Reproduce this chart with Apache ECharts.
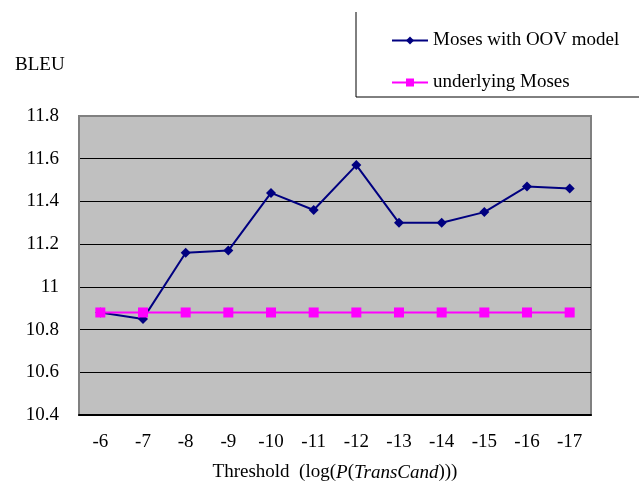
<!DOCTYPE html>
<html>
<head>
<meta charset="utf-8">
<script src="https://cdn.jsdelivr.net/npm/echarts@6/dist/echarts.min.js"></script>
<style>html,body{margin:0;padding:0;background:#fff;}#c{width:639px;height:487px;}</style>
</head>
<body>
<div id="c"></div>
<script>
var categories = ['-6','-7','-8','-9','-10','-11','-12','-13','-14','-15','-16','-17'];
var oovValues = [10.88, 10.85, 11.16, 11.17, 11.44, 11.36, 11.57, 11.30, 11.30, 11.35, 11.47, 11.46];
var baseValues = [10.88, 10.88, 10.88, 10.88, 10.88, 10.88, 10.88, 10.88, 10.88, 10.88, 10.88, 10.88];
var seriesNames = ['Moses with OOV model', 'underlying Moses'];
var yTicks = {min: 10.4, max: 11.8, interval: 0.2};

var FONT = '"Liberation Serif", "Times New Roman", serif';
var chart = echarts.init(document.getElementById('c'), null, {renderer: 'canvas'});
chart.setOption({
  backgroundColor: '#ffffff',
  animation: false,
  title: {
    text: 'BLEU', left: 10, top: 51,
    textStyle: {fontFamily: FONT, fontSize: 19, fontWeight: 'normal', color: '#000'}
  },
  legend: {
    orient: 'vertical', left: 386, top: 26,
    itemGap: 23, itemWidth: 36, itemHeight: 10,
    data: seriesNames,
    textStyle: {fontFamily: FONT, fontSize: 19, color: '#000'}
  },
  graphic: [{
    type: 'polyline',
    shape: {points: [[356, 12], [356, 97], [639, 97]]},
    style: {stroke: '#000', lineWidth: 1, fill: null}
  }],
  grid: {
    left: 79, right: 48, top: 116, bottom: 65,
    show: true, backgroundColor: '#C0C0C0', borderColor: '#808080', borderWidth: 2
  },
  xAxis: {
    type: 'category', data: categories, boundaryGap: true,
    axisLine: {lineStyle: {color: '#000', width: 2}},
    axisTick: {inside: true, length: 5, lineStyle: {color: '#000'}},
    axisLabel: {fontFamily: FONT, fontSize: 19, color: '#000', margin: 18},
    name: '{n|Threshold  (log(}{i|P}{n|(}{i|TransCand}{n|)))}',
    nameLocation: 'middle', nameGap: 48,
    nameTextStyle: {
      rich: {
        n: {fontFamily: FONT, fontSize: 19, color: '#000'},
        i: {fontFamily: FONT, fontSize: 19, fontStyle: 'italic', color: '#000'}
      }
    }
  },
  yAxis: {
    type: 'value', min: yTicks.min, max: yTicks.max, interval: yTicks.interval,
    axisLine: {show: true, lineStyle: {color: '#808080', width: 2}},
    axisTick: {show: false},
    axisLabel: {fontFamily: FONT, fontSize: 19, color: '#000', margin: 20,
      formatter: function (v) { return String(Math.round(v * 10) / 10); }},
    splitLine: {show: true, lineStyle: {color: ['#808080','#000','#000','#000','#000','#000','#000','#808080'], width: 1}}
  },
  series: [{
    name: seriesNames[0], type: 'line', data: oovValues,
    symbol: 'diamond', symbolSize: 10,
    itemStyle: {color: '#000080'},
    lineStyle: {color: '#000080', width: 2}
  }, {
    name: seriesNames[1], type: 'line', data: baseValues,
    symbol: 'rect', symbolSize: 10,
    itemStyle: {color: '#FF00FF'},
    lineStyle: {color: '#FF00FF', width: 2}
  }]
});
</script>
</body>
</html>
